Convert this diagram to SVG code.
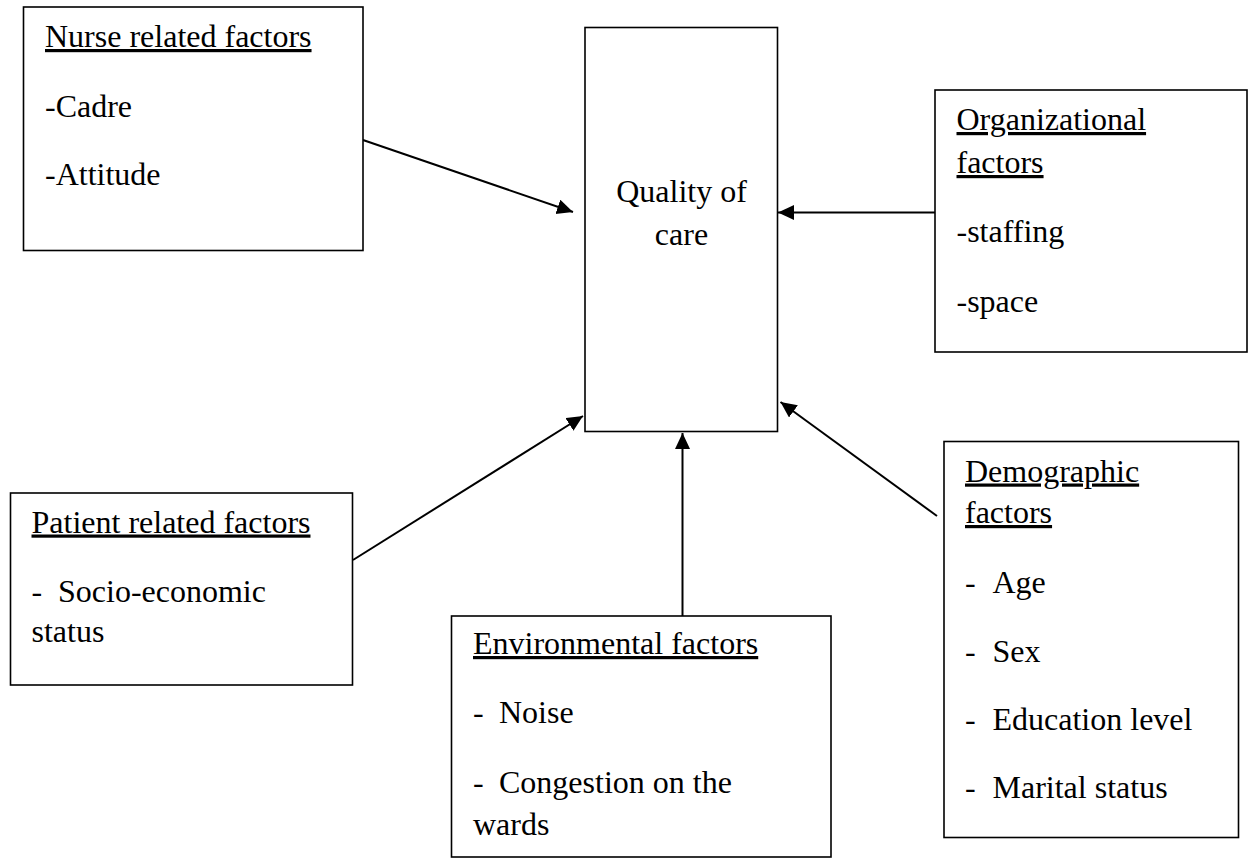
<svg xmlns="http://www.w3.org/2000/svg" width="1249" height="859" viewBox="0 0 1249 859">
<style>
.box{fill:#fff;stroke:#000;stroke-width:1.6}
.t{font-family:"Liberation Serif","Times New Roman",serif;font-size:32px;fill:#000}
.h{text-decoration:underline}
.c{text-anchor:middle}
.con{stroke:#000;stroke-width:2;fill:none;marker-end:url(#ah)}
</style>
<defs>
<marker id="ah" markerUnits="userSpaceOnUse" markerWidth="18" markerHeight="16" refX="16" refY="7.5" orient="auto">
<path d="M0,0 L16,7.5 L0,15 z" fill="#000"/>
</marker>
</defs>
<rect width="1249" height="859" fill="#fff"/>
<g id="connectors">
<line class="con" x1="363" y1="140" x2="573" y2="212"/>
<line class="con" x1="935" y1="212.5" x2="778" y2="212.5"/>
<line class="con" x1="353" y1="560" x2="583" y2="416"/>
<line class="con" x1="682.5" y1="616" x2="682.5" y2="433"/>
<line class="con" x1="937" y1="516" x2="780.5" y2="402"/>
</g>
<g id="nurse">
<rect class="box" x="23.5" y="7" width="339.5" height="243.5"/>
<text class="t h" x="45" y="47">Nurse related factors</text>
<text class="t" x="45" y="117">-Cadre</text>
<text class="t" x="45" y="185">-Attitude</text>
</g>
<g id="quality">
<rect class="box" x="585" y="27.5" width="192.5" height="404"/>
<text class="t c" x="681.5" y="201.5">Quality of</text>
<text class="t c" x="681.5" y="245">care</text>
</g>
<g id="organizational">
<rect class="box" x="935" y="90" width="312" height="262"/>
<text class="t h" x="956.5" y="130">Organizational</text>
<text class="t h" x="956.5" y="173">factors</text>
<text class="t" x="956.5" y="241.5">-staffing</text>
<text class="t" x="956.5" y="311.5">-space</text>
</g>
<g id="patient">
<rect class="box" x="10.5" y="493" width="342" height="192"/>
<text class="t h" x="31.5" y="532.5">Patient related factors</text>
<text class="t" y="601.5"><tspan x="31.5">-</tspan><tspan x="58">Socio-economic</tspan></text>
<text class="t" x="31.5" y="641.5">status</text>
</g>
<g id="environmental">
<rect class="box" x="451.5" y="616" width="379.5" height="241"/>
<text class="t h" x="473" y="654">Environmental factors</text>
<text class="t" y="722.5"><tspan x="473">-</tspan><tspan x="499">Noise</tspan></text>
<text class="t" y="792.5"><tspan x="473">-</tspan><tspan x="499">Congestion on the</tspan></text>
<text class="t" x="473" y="835">wards</text>
</g>
<g id="demographic">
<rect class="box" x="944" y="441.5" width="294.5" height="396"/>
<text class="t h" x="965" y="481.5">Demographic</text>
<text class="t h" x="965" y="523">factors</text>
<text class="t" y="592.5"><tspan x="965">-</tspan><tspan x="992.5">Age</tspan></text>
<text class="t" y="661.5"><tspan x="965">-</tspan><tspan x="992.5">Sex</tspan></text>
<text class="t" y="730"><tspan x="965">-</tspan><tspan x="992.5">Education level</tspan></text>
<text class="t" y="798"><tspan x="965">-</tspan><tspan x="992.5">Marital status</tspan></text>
</g>
</svg>
